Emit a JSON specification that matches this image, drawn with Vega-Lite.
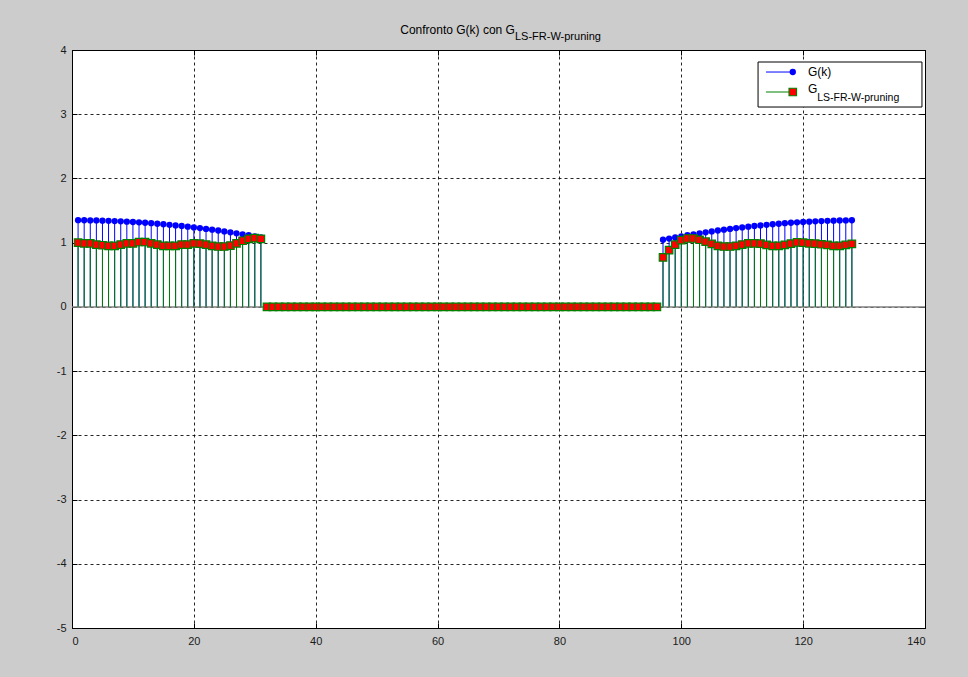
{
  "$schema": "https://vega.github.io/schema/vega-lite/v6.json",
  "width": 853,
  "height": 578,
  "autosize": {"type": "none"},
  "padding": {"left": 72, "top": 50, "right": 43, "bottom": 49},
  "background": "#cccccc",
  "config": {
    "view": {"fill": "white", "stroke": "black", "strokeWidth": 1},
    "font": "Liberation Sans",
    "axis": {
      "labelFont": "Liberation Sans",
      "labelFontSize": 11,
      "labelColor": "#1a1a1a",
      "domainColor": "#000000",
      "tickColor": "#000000",
      "gridColor": "#000000",
      "gridDash": [3, 3],
      "gridOpacity": 0.85,
      "gridWidth": 1,
      "title": null
    }
  },
  "datasets": {
    "stem": [
      {"k": 1, "g": 1.350, "gls": 1.00},
      {"k": 2, "g": 1.349, "gls": 0.99},
      {"k": 3, "g": 1.347, "gls": 0.99},
      {"k": 4, "g": 1.346, "gls": 0.97},
      {"k": 5, "g": 1.343, "gls": 0.96},
      {"k": 6, "g": 1.340, "gls": 0.95},
      {"k": 7, "g": 1.336, "gls": 0.95},
      {"k": 8, "g": 1.332, "gls": 0.97},
      {"k": 9, "g": 1.327, "gls": 0.99},
      {"k": 10, "g": 1.322, "gls": 0.99},
      {"k": 11, "g": 1.316, "gls": 1.01},
      {"k": 12, "g": 1.310, "gls": 1.01},
      {"k": 13, "g": 1.303, "gls": 0.99},
      {"k": 14, "g": 1.295, "gls": 0.97},
      {"k": 15, "g": 1.287, "gls": 0.95},
      {"k": 16, "g": 1.278, "gls": 0.95},
      {"k": 17, "g": 1.269, "gls": 0.95},
      {"k": 18, "g": 1.259, "gls": 0.97},
      {"k": 19, "g": 1.249, "gls": 0.97},
      {"k": 20, "g": 1.238, "gls": 0.99},
      {"k": 21, "g": 1.227, "gls": 0.985},
      {"k": 22, "g": 1.214, "gls": 0.97},
      {"k": 23, "g": 1.202, "gls": 0.95},
      {"k": 24, "g": 1.189, "gls": 0.94},
      {"k": 25, "g": 1.175, "gls": 0.94},
      {"k": 26, "g": 1.161, "gls": 0.955},
      {"k": 27, "g": 1.146, "gls": 0.99},
      {"k": 28, "g": 1.130, "gls": 1.03},
      {"k": 29, "g": 1.115, "gls": 1.06},
      {"k": 30, "g": 1.098, "gls": 1.07},
      {"k": 31, "g": 1.081, "gls": 1.06},
      {"k": 32, "g": 0, "gls": 0},
      {"k": 33, "g": 0, "gls": 0},
      {"k": 34, "g": 0, "gls": 0},
      {"k": 35, "g": 0, "gls": 0},
      {"k": 36, "g": 0, "gls": 0},
      {"k": 37, "g": 0, "gls": 0},
      {"k": 38, "g": 0, "gls": 0},
      {"k": 39, "g": 0, "gls": 0},
      {"k": 40, "g": 0, "gls": 0},
      {"k": 41, "g": 0, "gls": 0},
      {"k": 42, "g": 0, "gls": 0},
      {"k": 43, "g": 0, "gls": 0},
      {"k": 44, "g": 0, "gls": 0},
      {"k": 45, "g": 0, "gls": 0},
      {"k": 46, "g": 0, "gls": 0},
      {"k": 47, "g": 0, "gls": 0},
      {"k": 48, "g": 0, "gls": 0},
      {"k": 49, "g": 0, "gls": 0},
      {"k": 50, "g": 0, "gls": 0},
      {"k": 51, "g": 0, "gls": 0},
      {"k": 52, "g": 0, "gls": 0},
      {"k": 53, "g": 0, "gls": 0},
      {"k": 54, "g": 0, "gls": 0},
      {"k": 55, "g": 0, "gls": 0},
      {"k": 56, "g": 0, "gls": 0},
      {"k": 57, "g": 0, "gls": 0},
      {"k": 58, "g": 0, "gls": 0},
      {"k": 59, "g": 0, "gls": 0},
      {"k": 60, "g": 0, "gls": 0},
      {"k": 61, "g": 0, "gls": 0},
      {"k": 62, "g": 0, "gls": 0},
      {"k": 63, "g": 0, "gls": 0},
      {"k": 64, "g": 0, "gls": 0},
      {"k": 65, "g": 0, "gls": 0},
      {"k": 66, "g": 0, "gls": 0},
      {"k": 67, "g": 0, "gls": 0},
      {"k": 68, "g": 0, "gls": 0},
      {"k": 69, "g": 0, "gls": 0},
      {"k": 70, "g": 0, "gls": 0},
      {"k": 71, "g": 0, "gls": 0},
      {"k": 72, "g": 0, "gls": 0},
      {"k": 73, "g": 0, "gls": 0},
      {"k": 74, "g": 0, "gls": 0},
      {"k": 75, "g": 0, "gls": 0},
      {"k": 76, "g": 0, "gls": 0},
      {"k": 77, "g": 0, "gls": 0},
      {"k": 78, "g": 0, "gls": 0},
      {"k": 79, "g": 0, "gls": 0},
      {"k": 80, "g": 0, "gls": 0},
      {"k": 81, "g": 0, "gls": 0},
      {"k": 82, "g": 0, "gls": 0},
      {"k": 83, "g": 0, "gls": 0},
      {"k": 84, "g": 0, "gls": 0},
      {"k": 85, "g": 0, "gls": 0},
      {"k": 86, "g": 0, "gls": 0},
      {"k": 87, "g": 0, "gls": 0},
      {"k": 88, "g": 0, "gls": 0},
      {"k": 89, "g": 0, "gls": 0},
      {"k": 90, "g": 0, "gls": 0},
      {"k": 91, "g": 0, "gls": 0},
      {"k": 92, "g": 0, "gls": 0},
      {"k": 93, "g": 0, "gls": 0},
      {"k": 94, "g": 0, "gls": 0},
      {"k": 95, "g": 0, "gls": 0},
      {"k": 96, "g": 0, "gls": 0},
      {"k": 97, "g": 1.045, "gls": 0.77},
      {"k": 98, "g": 1.063, "gls": 0.885},
      {"k": 99, "g": 1.081, "gls": 0.97},
      {"k": 100, "g": 1.098, "gls": 1.04},
      {"k": 101, "g": 1.115, "gls": 1.065},
      {"k": 102, "g": 1.130, "gls": 1.065},
      {"k": 103, "g": 1.146, "gls": 1.045},
      {"k": 104, "g": 1.161, "gls": 1.015},
      {"k": 105, "g": 1.175, "gls": 0.98},
      {"k": 106, "g": 1.189, "gls": 0.95},
      {"k": 107, "g": 1.202, "gls": 0.94},
      {"k": 108, "g": 1.214, "gls": 0.94},
      {"k": 109, "g": 1.227, "gls": 0.95},
      {"k": 110, "g": 1.238, "gls": 0.97},
      {"k": 111, "g": 1.249, "gls": 0.99},
      {"k": 112, "g": 1.259, "gls": 0.99},
      {"k": 113, "g": 1.269, "gls": 0.985},
      {"k": 114, "g": 1.278, "gls": 0.965},
      {"k": 115, "g": 1.287, "gls": 0.95},
      {"k": 116, "g": 1.295, "gls": 0.95},
      {"k": 117, "g": 1.303, "gls": 0.965},
      {"k": 118, "g": 1.310, "gls": 0.985},
      {"k": 119, "g": 1.316, "gls": 1.005},
      {"k": 120, "g": 1.322, "gls": 1.00},
      {"k": 121, "g": 1.327, "gls": 0.99},
      {"k": 122, "g": 1.332, "gls": 0.985},
      {"k": 123, "g": 1.336, "gls": 0.975},
      {"k": 124, "g": 1.340, "gls": 0.965},
      {"k": 125, "g": 1.343, "gls": 0.95},
      {"k": 126, "g": 1.346, "gls": 0.95},
      {"k": 127, "g": 1.347, "gls": 0.965},
      {"k": 128, "g": 1.349, "gls": 0.98}
    ],
    "legendG": [{"label": "G(k)"}],
    "legendLS": [{"label": "G", "sub": "LS-FR-W-pruning"}],
    "titleText": [{"main": "Confronto G(k) con G", "sub": "LS-FR-W-pruning"}]
  },
  "resolve": {"axis": {"x": "independent", "y": "independent"}},
  "layer": [
    {
      "data": {"name": "stem"},
      "mark": {"type": "rule", "color": "#0000ff", "strokeWidth": 1},
      "encoding": {
        "x": {
          "field": "k", "type": "quantitative",
          "scale": {"domain": [0, 140], "nice": false, "zero": false},
          "axis": {"orient": "bottom", "values": [0, 20, 40, 60, 80, 100, 120, 140], "grid": true, "tickSize": -5, "labelPadding": 12, "domain": false, "labelExpr": "'' + datum.value"}
        },
        "y": {
          "field": "g", "type": "quantitative",
          "scale": {"domain": [-5, 4], "nice": false, "zero": false},
          "axis": {"orient": "left", "values": [-5, -4, -3, -2, -1, 0, 1, 2, 3, 4], "grid": true, "tickSize": -5, "labelPadding": 11, "domain": false, "labelExpr": "'' + datum.value"}
        },
        "y2": {"datum": 0}
      }
    },
    {
      "data": {"name": "stem"},
      "mark": {"type": "point", "shape": "circle", "filled": true, "color": "#0000ff", "opacity": 1, "size": 40},
      "encoding": {
        "x": {"field": "k", "type": "quantitative", "axis": {"orient": "top", "values": [0, 20, 40, 60, 80, 100, 120, 140], "grid": false, "labels": false, "tickSize": -5, "domain": false}},
        "y": {"field": "g", "type": "quantitative", "axis": {"orient": "right", "values": [-5, -4, -3, -2, -1, 0, 1, 2, 3, 4], "grid": false, "labels": false, "tickSize": -5, "domain": false}}
      }
    },
    {
      "data": {"values": [{"base": 0}]},
      "mark": {"type": "rule", "color": "#808080", "strokeWidth": 1.5},
      "encoding": {"y": {"field": "base", "type": "quantitative", "axis": null}}
    },
    {
      "data": {"name": "stem"},
      "mark": {"type": "rule", "color": "#008000", "strokeWidth": 1},
      "encoding": {
        "x": {"field": "k", "type": "quantitative", "axis": null},
        "y": {"field": "gls", "type": "quantitative", "axis": null},
        "y2": {"datum": 0}
      }
    },
    {
      "data": {"name": "stem"},
      "mark": {"type": "point", "shape": "square", "filled": true, "fill": "#ff0000", "stroke": "#008000", "strokeWidth": 1.2, "opacity": 1, "size": 56},
      "encoding": {
        "x": {"field": "k", "type": "quantitative", "axis": null},
        "y": {"field": "gls", "type": "quantitative", "axis": null}
      }
    },
    {
      "data": {"name": "titleText"},
      "mark": {"type": "text", "align": "right", "baseline": "middle", "fontSize": 12, "color": "#000000"},
      "encoding": {
        "x": {"datum": 72.7, "type": "quantitative", "axis": null},
        "y": {"datum": 4.311, "type": "quantitative", "axis": null},
        "text": {"field": "main"}
      }
    },
    {
      "data": {"name": "titleText"},
      "mark": {"type": "text", "align": "left", "baseline": "middle", "fontSize": 11, "color": "#000000"},
      "encoding": {
        "x": {"datum": 72.7, "type": "quantitative", "axis": null},
        "y": {"datum": 4.202, "type": "quantitative", "axis": null},
        "text": {"field": "sub"}
      }
    },
    {
      "data": {"values": [{"box": "legend"}]},
      "mark": {"type": "rect", "fill": "white", "stroke": "black", "strokeWidth": 1},
      "encoding": {
        "x": {"datum": 112.6, "type": "quantitative", "axis": null},
        "x2": {"datum": 139.5},
        "y": {"datum": 3.813, "type": "quantitative", "axis": null},
        "y2": {"datum": 3.112}
      }
    },
    {
      "data": {"name": "legendG"},
      "mark": {"type": "rule", "color": "#0000ff", "strokeWidth": 1},
      "encoding": {
        "x": {"datum": 113.9, "type": "quantitative", "axis": null},
        "x2": {"datum": 118.3},
        "y": {"datum": 3.657, "type": "quantitative", "axis": null}
      }
    },
    {
      "data": {"name": "legendG"},
      "mark": {"type": "point", "shape": "circle", "filled": true, "color": "#0000ff", "opacity": 1, "size": 40},
      "encoding": {
        "x": {"datum": 118.3, "type": "quantitative", "axis": null},
        "y": {"datum": 3.657, "type": "quantitative", "axis": null}
      }
    },
    {
      "data": {"name": "legendG"},
      "mark": {"type": "text", "align": "left", "baseline": "middle", "fontSize": 12, "color": "#000000"},
      "encoding": {
        "x": {"datum": 120.8, "type": "quantitative", "axis": null},
        "y": {"datum": 3.657, "type": "quantitative", "axis": null},
        "text": {"field": "label"}
      }
    },
    {
      "data": {"name": "legendLS"},
      "mark": {"type": "rule", "color": "#008000", "strokeWidth": 1},
      "encoding": {
        "x": {"datum": 113.9, "type": "quantitative", "axis": null},
        "x2": {"datum": 118.3},
        "y": {"datum": 3.346, "type": "quantitative", "axis": null}
      }
    },
    {
      "data": {"name": "legendLS"},
      "mark": {"type": "point", "shape": "square", "filled": true, "fill": "#ff0000", "stroke": "#008000", "strokeWidth": 1.2, "opacity": 1, "size": 56},
      "encoding": {
        "x": {"datum": 118.3, "type": "quantitative", "axis": null},
        "y": {"datum": 3.346, "type": "quantitative", "axis": null}
      }
    },
    {
      "data": {"name": "legendLS"},
      "mark": {"type": "text", "align": "left", "baseline": "middle", "fontSize": 12, "color": "#000000"},
      "encoding": {
        "x": {"datum": 120.8, "type": "quantitative", "axis": null},
        "y": {"datum": 3.39, "type": "quantitative", "axis": null},
        "text": {"field": "label"}
      }
    },
    {
      "data": {"name": "legendLS"},
      "mark": {"type": "text", "align": "left", "baseline": "middle", "fontSize": 10.5, "color": "#000000"},
      "encoding": {
        "x": {"datum": 122.3, "type": "quantitative", "axis": null},
        "y": {"datum": 3.26, "type": "quantitative", "axis": null},
        "text": {"field": "sub"}
      }
    }
  ]
}
